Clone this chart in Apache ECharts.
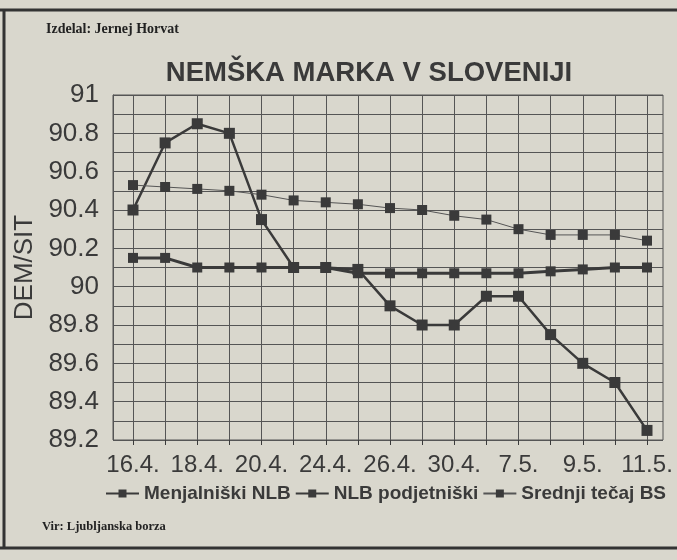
<!DOCTYPE html>
<html>
<head>
<meta charset="utf-8">
<script src="https://cdn.jsdelivr.net/npm/echarts@6/dist/echarts.min.js"></script>
<style>
  html, body { margin: 0; padding: 0; background: #d9d7cd; }
  #chart { width: 677px; height: 560px; }
</style>
</head>
<body>
<div id="chart"></div>
<script>
// datumi (vsak drugi je izpisan na osi)
var dates = ['16.4.', '17.4.', '18.4.', '19.4.', '20.4.', '23.4.', '24.4.', '25.4.', '26.4.',
             '29.4.', '30.4.', '6.5.', '7.5.', '8.5.', '9.5.', '10.5.', '11.5.'];
var menjalniski = [90.4, 90.75, 90.85, 90.8, 90.35, 90.1, 90.1, 90.09, 89.9,
                   89.8, 89.8, 89.95, 89.95, 89.75, 89.6, 89.5, 89.25];
var podjetniski = [90.15, 90.15, 90.1, 90.1, 90.1, 90.1, 90.1, 90.07, 90.07,
                   90.07, 90.07, 90.07, 90.07, 90.08, 90.09, 90.1, 90.1];
var srednji = [90.53, 90.52, 90.51, 90.5, 90.48, 90.45, 90.44, 90.43, 90.41,
               90.4, 90.37, 90.35, 90.3, 90.27, 90.27, 90.27, 90.24];

var ink = '#3a3a3a';
var gridCol = '#555';
var chart = echarts.init(document.getElementById('chart'));

function yLab(v) {
  var t = Math.round(v * 10);
  return t % 2 === 0 ? String(t / 10) : '';
}

var option = {
  backgroundColor: '#d9d7cd',
  animation: false,
  title: {
    text: 'NEMŠKA MARKA V SLOVENIJI',
    left: 364, top: 54, textAlign: 'center',
    textStyle: { fontFamily: 'Liberation Sans', fontWeight: 'bold', fontSize: 27.5, color: ink }
  },
  graphic: [
    { type: 'line', shape: { x1: 0, y1: 10, x2: 677, y2: 10 }, style: { stroke: '#333', lineWidth: 3 } },
    { type: 'line', shape: { x1: 4, y1: 10, x2: 4, y2: 548 }, style: { stroke: '#333', lineWidth: 3 } },
    { type: 'line', shape: { x1: 0, y1: 548, x2: 677, y2: 548 }, style: { stroke: '#333', lineWidth: 3 } },
    { type: 'text', left: 46, top: 22,
      style: { text: 'Izdelal: Jernej Horvat', fill: '#222', font: 'bold 14px "Liberation Serif"' } },
    { type: 'text', left: 42, top: 520,
      style: { text: 'Vir: Ljubljanska borza', fill: '#222', font: 'bold 12.5px "Liberation Serif"' } }
  ],
  legend: {
    top: 479, left: 100,
    itemWidth: 33, itemHeight: 10, itemGap: 4,
    textStyle: { fontFamily: 'Liberation Sans', fontWeight: 'bold', fontSize: 19, color: ink },
    data: ['Menjalniški NLB', 'NLB podjetniški', 'Srednji tečaj BS']
  },
  grid: [
    // okvir in vodoravne črte
    { left: 113, right: 14, top: 95, bottom: 120, show: true, borderColor: gridCol, borderWidth: 1 },
    // podatki (točke na navpičnih črtah)
    { left: 133, right: 30, top: 95, bottom: 120 }
  ],
  xAxis: [
    {
      gridIndex: 0, type: 'value', min: 0, max: 1,
      axisLine: { show: false }, axisTick: { show: false }, axisLabel: { show: false }, splitLine: { show: false }
    },
    {
      gridIndex: 1, type: 'category', data: dates, boundaryGap: false,
      axisLine: { show: false },
      axisTick: { show: true, length: 5, interval: 0, lineStyle: { color: ink } },
      axisLabel: { interval: 1, color: ink, fontFamily: 'Liberation Sans', fontSize: 24, margin: 13 },
      splitLine: { show: true, interval: 0, lineStyle: { color: gridCol, width: 1 } }
    }
  ],
  yAxis: [
    {
      gridIndex: 0, type: 'value', min: 89.2, max: 91, interval: 0.1,
      name: 'DEM/SIT', nameLocation: 'middle', nameGap: 71, nameRotate: 90,
      nameTextStyle: { fontFamily: 'Liberation Sans', fontSize: 26, color: ink },
      axisLine: { show: true, lineStyle: { color: gridCol } },
      axisTick: { show: false },
      axisLabel: { color: ink, fontFamily: 'Liberation Sans', fontSize: 26, margin: 14, formatter: yLab },
      splitLine: { show: true, lineStyle: { color: gridCol, width: 1 } }
    },
    {
      gridIndex: 1, type: 'value', min: 89.2, max: 91, interval: 0.1,
      axisLine: { show: false }, axisTick: { show: false }, axisLabel: { show: false }, splitLine: { show: false }
    }
  ],
  series: [
    {
      name: 'Menjalniški NLB', type: 'line', data: menjalniski, xAxisIndex: 1, yAxisIndex: 1,
      symbol: 'rect', symbolSize: 11,
      lineStyle: { color: ink, width: 2.5 }, itemStyle: { color: ink }
    },
    {
      name: 'NLB podjetniški', type: 'line', data: podjetniski, xAxisIndex: 1, yAxisIndex: 1,
      symbol: 'rect', symbolSize: 10,
      lineStyle: { color: ink, width: 3 }, itemStyle: { color: ink }
    },
    {
      name: 'Srednji tečaj BS', type: 'line', data: srednji, xAxisIndex: 1, yAxisIndex: 1,
      symbol: 'rect', symbolSize: 10,
      lineStyle: { color: '#555', width: 1 }, itemStyle: { color: ink }
    }
  ]
};

chart.setOption(option);
</script>
</body>
</html>
